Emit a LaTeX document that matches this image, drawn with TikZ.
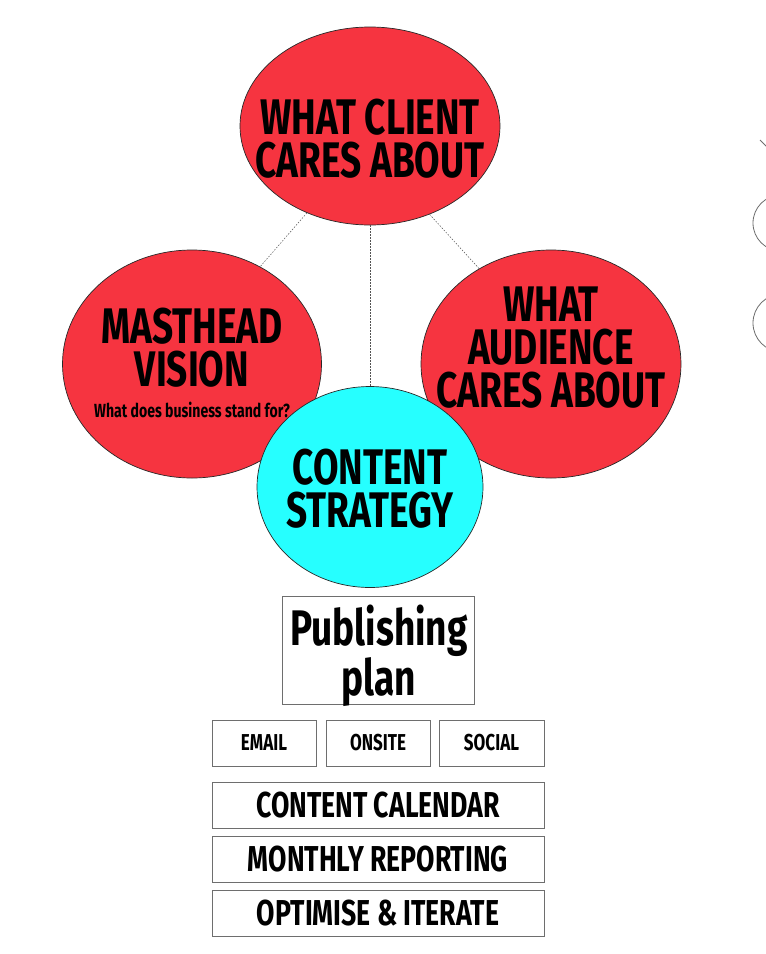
\documentclass[tikz,border=0pt]{standalone}
\usepackage{fontspec}
\setmainfont{Fira Sans}[FakeStretch=0.74]
\usetikzlibrary{shapes.geometric,positioning}
\definecolor{ink}{RGB}{40,40,40}
\definecolor{frame}{RGB}{110,110,110}
\definecolor{hotred}{RGB}{246,52,64}
\definecolor{aqua}{RGB}{38,255,255}
\tikzset{
  blob/.style={ellipse,draw=ink,line width=0.7pt,fill=hotred,inner sep=0pt},
  core/.style={blob,fill=aqua},
  bigtxt/.style={inner sep=0pt,align=center,font=\fontsize{50}{43}\selectfont\bfseries},
  subtxt/.style={inner sep=0pt,font=\fontsize{19}{22}\selectfont\bfseries},
  planbox/.style={draw=frame,line width=1pt,fill=white,inner sep=0pt},
  chanbox/.style={draw=frame,line width=1pt,fill=white,inner sep=0pt,
    minimum height=46pt,font=\fontsize{23}{24}\selectfont\bfseries},
  stepbox/.style={draw=frame,line width=1pt,fill=white,inner sep=0pt,
    minimum width=332pt,minimum height=46pt,font=\fontsize{36}{40}\selectfont\bfseries},
  link/.style={draw=ink!80,line width=0.5pt,dash pattern=on 1.5pt off 1.5pt},
  edge/.style={draw=frame,line width=0.8pt},
}
\begin{document}
\begin{tikzpicture}[x=1pt,y=-1pt]
\useasboundingbox[fill=white] (0,0) rectangle (766,954);
% the four circles
\node[blob,minimum width=260pt,minimum height=198pt] (client) at (370,126) {};
\node[blob,minimum width=259pt,minimum height=228pt] (masthead) at (192,364) {};
\node[blob,minimum width=260pt,minimum height=228pt] (audience) at (551,364) {};
\node[core,minimum width=226pt,minimum height=201pt] (strategy) at (370,487) {};
% dotted ties
\draw[link] (client.234) -- (masthead.55);
\draw[link] (client.304) -- (audience.127);
\draw[link] (client.south) -- (strategy.north);
% circle texts
\node[bigtxt] (clienttxt) at (370,139) {WHAT CLIENT\\CARES ABOUT};
\node[bigtxt] (mastheadtxt) at (192,348) {MASTHEAD\\VISION};
\node[subtxt] (mastheadsub) at (192,410) {What does business stand for?};
\node[bigtxt] (audiencetxt) at (551,348) {WHAT\\AUDIENCE\\CARES ABOUT};
\node[bigtxt] (strategytxt) at (370,489) {CONTENT\\STRATEGY};
% plan and channels
\node[planbox,minimum width=192pt,minimum height=108pt] (plan) at (378,650) {};
\node[bigtxt,font=\fontsize{50}{42}\selectfont\bfseries] (plantxt) at (379,656) {Publishing\\plan};
\node[chanbox,minimum width=104pt] (email) at (264,743) {EMAIL};
\node[chanbox,minimum width=104pt] (onsite) at (378,743) {ONSITE};
\node[chanbox,minimum width=105pt] (social) at (491.5,743) {SOCIAL};
% steps
\node[stepbox] (calendar) at (378,805) {CONTENT CALENDAR};
\node[stepbox] (reporting) at (378,859) {MONTHLY REPORTING};
\node[stepbox] (iterate) at (378,913.5) {OPTIMISE \& ITERATE};
% cut-off shapes at the right edge
\begin{scope}
\clip (0,0) rectangle (766,954);
\draw[edge] (781,223) circle[radius=28pt];
\draw[edge] (782,323) circle[radius=29pt];
\draw[edge] (760,140) -- (772,152);
\end{scope}
\end{tikzpicture}
\end{document}
